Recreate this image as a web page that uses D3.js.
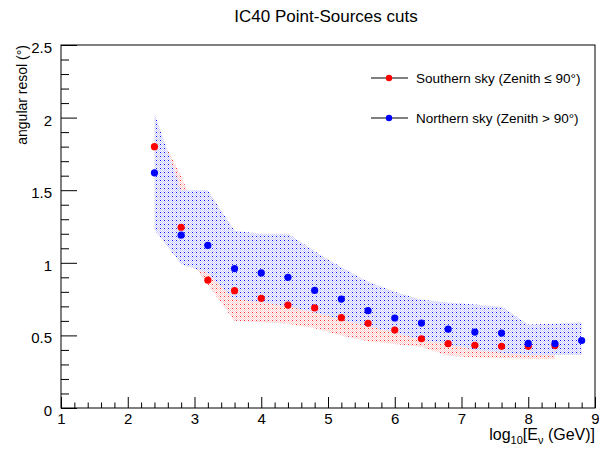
<!DOCTYPE html>
<html>
<head>
<meta charset="utf-8">
<script src="https://cdn.jsdelivr.net/npm/d3@7"></script>
<style>
  body { margin: 0; background: #fff; }
  text { font-family: "Liberation Sans", Arial, sans-serif; fill: #000; }
</style>
</head>
<body>
<svg id="chart" width="599" height="450"></svg>
<script>
// log10 energy bins
var energy = [2.4, 2.8, 3.2, 3.6, 4.0, 4.4, 4.8, 5.2, 5.6, 6.0, 6.4, 6.8, 7.2, 7.6, 8.0, 8.4, 8.8];

// southern sky (zenith <= 90), one bin less
var south   = [1.80, 1.245, 0.88, 0.808, 0.755, 0.709, 0.689, 0.622, 0.583, 0.537, 0.477, 0.443, 0.432, 0.425, 0.425, 0.43];
var southHi = [1.95, 1.60, 1.15, 1.00, 0.95, 0.90, 0.85, 0.78, 0.72, 0.66, 0.60, 0.55, 0.53, 0.52, 0.50, 0.50];
var southLo = [1.35, 1.10, 0.85, 0.60, 0.59, 0.58, 0.55, 0.50, 0.46, 0.44, 0.42, 0.36, 0.35, 0.345, 0.34, 0.335];

// northern sky (zenith > 90)
var north   = [1.62, 1.19, 1.12, 0.96, 0.93, 0.90, 0.81, 0.75, 0.67, 0.62, 0.585, 0.543, 0.523, 0.516, 0.445, 0.443, 0.465];
var northHi = [2.03, 1.50, 1.50, 1.22, 1.20, 1.20, 1.08, 0.97, 0.87, 0.80, 0.745, 0.727, 0.713, 0.698, 0.575, 0.58, 0.59];
var northLo = [1.23, 0.99, 0.93, 0.75, 0.73, 0.70, 0.66, 0.61, 0.565, 0.52, 0.47, 0.44, 0.40, 0.38, 0.365, 0.365, 0.365];

var xMajor = [1, 2, 3, 4, 5, 6, 7, 8, 9];
var yMajor = [0, 0.5, 1, 1.5, 2, 2.5];

var legendItems = [
  { label: "Southern sky (Zenith \u2264 90\u00b0)", color: "#ff0000" },
  { label: "Northern sky (Zenith > 90\u00b0)", color: "#0000ff" }
];

var frameL = 61, frameR = 595, frameT = 45, frameB = 408;

var svg = d3.select("#chart");
svg.append("rect").attr("width", 599).attr("height", 450).attr("fill", "#fff");

var x = d3.scaleLinear().domain([1, 9]).range([frameL, frameR]);
var y = d3.scaleLinear().domain([0, 2.5]).range([frameB, frameT]);

// dotted fill patterns, same grid so blue covers red where they overlap
function makePattern(id, light, dark) {
  var p = svg.append("defs").append("pattern")
    .attr("id", id)
    .attr("patternUnits", "userSpaceOnUse")
    .attr("width", 4).attr("height", 4);
  var cells = [[0,0],[2,0],[1,1],[3,1],[0,2],[2,2],[1,3],[3,3]];
  cells.forEach(function (c, i) {
    p.append("rect")
      .attr("x", c[0]).attr("y", c[1])
      .attr("width", 1).attr("height", 1)
      .attr("shape-rendering", "crispEdges")
      .attr("fill", i == 0 ? dark : light);
  });
}
makePattern("redDots", "#ffcaca", "#ff3030");
makePattern("blueDots", "#c6c6ff", "#0000ff");

function band(vals, lo, hi) {
  var pts = [];
  for (var i = 0; i < vals.length; i++) pts.push([x(energy[i]), y(hi[i])]);
  for (var i = vals.length - 1; i >= 0; i--) pts.push([x(energy[i]), y(lo[i])]);
  return pts;
}

svg.append("polygon")
  .attr("points", band(south, southLo, southHi).join(" "))
  .attr("fill", "url(#redDots)");

svg.append("polygon")
  .attr("points", band(north, northLo, northHi).join(" "))
  .attr("fill", "url(#blueDots)");

svg.selectAll("circle.south")
  .data(south)
  .enter()
  .append("circle")
  .attr("class", "south")
  .attr("cx", function (d, i) { return x(energy[i]) })
  .attr("cy", function (d) { return y(d) })
  .attr("r", 3.6)
  .attr("fill", "#ff0000");

svg.selectAll("circle.north")
  .data(north)
  .enter()
  .append("circle")
  .attr("class", "north")
  .attr("cx", function (d, i) { return x(energy[i]) })
  .attr("cy", function (d) { return y(d) })
  .attr("r", 3.6)
  .attr("fill", "#0000ff");

// axes, ticks drawn inside the frame like ROOT does
var xMinor = d3.range(1, 9.001, 0.2).filter(function (v) { return Math.abs(v - Math.round(v)) > 1e-6 });
var yMinor = d3.range(0, 2.5001, 0.1).filter(function (v) { return Math.abs(v * 2 - Math.round(v * 2)) > 1e-6 });

var gx = svg.append("g").attr("transform", "translate(0," + frameB + ")")
  .call(d3.axisBottom(x).tickValues(xMajor).tickSize(-11).tickPadding(5).tickFormat(d3.format("d")));
svg.append("g").attr("transform", "translate(0," + frameB + ")")
  .call(d3.axisBottom(x).tickValues(xMinor).tickSize(-5.5).tickFormat(""));

var gy = svg.append("g").attr("transform", "translate(" + frameL + ",0)")
  .call(d3.axisLeft(y).tickValues(yMajor).tickSize(-16).tickPadding(9).tickFormat(d3.format("~g")));
svg.append("g").attr("transform", "translate(" + frameL + ",0)")
  .call(d3.axisLeft(y).tickValues(yMinor).tickSize(-8).tickFormat(""));

svg.selectAll(".tick line").attr("stroke", "#000");
svg.selectAll(".domain").remove();
gx.selectAll("text").attr("font-size", 15).attr("font-family", "Liberation Sans, Arial, sans-serif").attr("fill", "#000");
gy.selectAll("text").attr("font-size", 15).attr("font-family", "Liberation Sans, Arial, sans-serif").attr("fill", "#000").attr("dy", "0.5em");

svg.append("rect")
  .attr("x", frameL).attr("y", frameT)
  .attr("width", frameR - frameL).attr("height", frameB - frameT)
  .attr("fill", "none").attr("stroke", "#000").attr("stroke-width", 1);

// titles
svg.append("text")
  .attr("x", 326).attr("y", 22)
  .attr("text-anchor", "middle")
  .attr("font-size", 17)
  .text("IC40 Point-Sources cuts");

svg.append("text")
  .attr("transform", "translate(27,45) rotate(-90)")
  .attr("text-anchor", "end")
  .attr("font-size", 14)
  .text("angular resol (\u00b0)");

var xt = svg.append("text")
  .attr("x", frameR).attr("y", 440)
  .attr("text-anchor", "end")
  .attr("font-size", 16);
xt.append("tspan").text("log");
xt.append("tspan").attr("font-size", 11).attr("dy", 4).text("10");
xt.append("tspan").attr("dy", -4).text("[E");
xt.append("tspan").attr("font-size", 11).attr("dy", 4).text("\u03bd");
xt.append("tspan").attr("dy", -4).text(" (GeV)]");

// legend
var leg = svg.selectAll("g.legend")
  .data(legendItems)
  .enter()
  .append("g")
  .attr("class", "legend")
  .attr("transform", function (d, i) { return "translate(0," + (78 + i * 40) + ")" });

leg.append("line")
  .attr("x1", 371).attr("x2", 408)
  .attr("stroke", "#000").attr("stroke-width", 1);
leg.append("circle")
  .attr("cx", 389).attr("r", 3.2)
  .attr("fill", function (d) { return d.color });
leg.append("text")
  .attr("x", 416).attr("dy", "0.35em")
  .attr("font-size", 13.5)
  .text(function (d) { return d.label });
</script>
</body>
</html>
